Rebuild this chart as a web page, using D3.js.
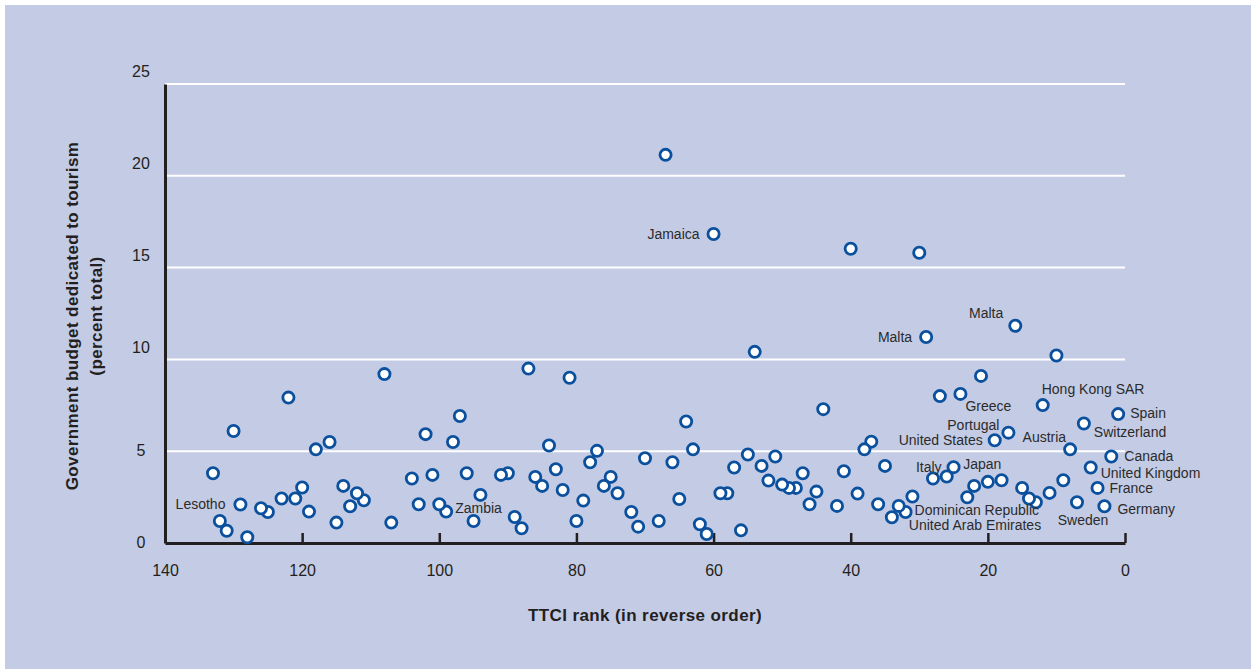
<html>
<head>
<script src="https://d3js.org/d3.v7.min.js"></script>
<style>
  body { margin: 0; background: #ffffff; }
  text { fill: #231f20; }
  .tick-lbl { font-family: "Liberation Sans", sans-serif; font-size: 16px; }
  .ann { font-family: "Liberation Sans", sans-serif; font-size: 14px; fill: #2b2b2b; }
  .title { font-family: "Liberation Sans", sans-serif; font-weight: bold; font-size: 17px; letter-spacing: 0.4px; }
</style>
</head>
<body>
<svg id="chart" width="1251" height="669"></svg>
<script>
// TTCI rank (x) and government budget share for tourism, percent (y)
const ranks = [1, 2, 3, 4, 5, 6, 7, 8, 9, 10, 11, 12, 13, 14, 15, 16, 17, 18, 19, 20,
  21, 22, 23, 24, 25, 26, 27, 28, 29, 30, 31, 32, 33, 34, 35, 36, 37, 38, 39, 40,
  41, 42, 44, 45, 46, 47, 48, 49, 50, 51, 52, 53, 54, 55, 56, 57, 58, 59, 60,
  61, 62, 63, 64, 65, 66, 67, 68, 70, 71, 72, 74, 75, 76, 77, 78, 79, 80,
  81, 82, 83, 84, 85, 86, 87, 88, 89, 90, 91, 94, 95, 96, 97, 98, 99, 100,
  101, 102, 103, 104, 107, 108, 111, 112, 113, 114, 115, 116, 118, 119, 120,
  121, 122, 123, 125, 126, 128, 129, 130, 131, 132, 133];
const budget = [7.02, 4.71, 2.0, 3.0, 4.11, 6.51, 2.22, 5.1, 3.42, 10.21, 2.73, 7.51, 2.22, 2.42, 3.0, 11.83, 6.01, 3.42, 5.6, 3.33,
  9.1, 3.11, 2.49, 8.12, 4.13, 3.62, 8.0, 3.51, 11.22, 15.81, 2.53, 1.69, 2.02, 1.4, 4.2, 2.11, 5.52, 5.1, 2.69, 16.03,
  3.91, 2.02, 7.29, 2.8, 2.11, 3.8, 3.0, 3.0, 3.18, 4.71, 3.4, 4.2, 10.41, 4.82, 0.69, 4.11, 2.71, 2.71, 16.83,
  0.49, 1.02, 5.1, 6.62, 2.4, 4.4, 21.14, 1.2, 4.62, 0.89, 1.69, 2.71, 3.6, 3.11, 5.02, 4.4, 2.31, 1.2,
  9.0, 2.89, 4.02, 5.31, 3.11, 3.6, 9.5, 0.8, 1.42, 3.8, 3.71, 2.62, 1.2, 3.8, 6.92, 5.5, 1.71, 2.11,
  3.71, 5.93, 2.11, 3.51, 1.11, 9.2, 2.33, 2.71, 2.0, 3.11, 1.11, 5.5, 5.1, 1.71, 3.02,
  2.42, 7.92, 2.42, 1.69, 1.89, 0.31, 2.1, 6.1, 0.67, 1.2, 3.8];

// labelled countries and the rank of the point they name
const labelNames = ["Lesotho", "Zambia", "Jamaica", "Malta", "Malta", "Hong Kong SAR", "Greece",
  "Portugal", "United States", "Austria", "Spain", "Switzerland", "Canada", "United Kingdom",
  "France", "Germany", "Sweden", "Italy", "Japan", "Dominican Republic", "United Arab Emirates"];
const labelRanks = [129, 99, 60, 29, 16, 12, 24, 17, 19, 8, 1, 6, 2, 5, 4, 3, 7, 25, 22, 32, 34];

const xTicks = [140, 120, 100, 80, 60, 40, 20, 0];
const yTicks = [0, 5, 10, 15, 20, 25];

const svg = d3.select("#chart");

// panel background
svg.append("rect")
  .attr("x", 5).attr("y", 5)
  .attr("width", 1246).attr("height", 664)
  .attr("fill", "#c4cbe5");

const x = d3.scaleLinear().domain([140, 0]).range([165, 1125]);
const y = d3.scaleLinear().domain([0, 25]).range([543, 84]);

// white gridlines
svg.append("g")
  .selectAll("line")
  .data(yTicks.filter(d => d > 0))
  .join("line")
  .attr("x1", x(140)).attr("x2", x(0))
  .attr("y1", d => y(d)).attr("y2", d => y(d))
  .attr("stroke", "#ffffff")
  .attr("stroke-width", 2);

// x axis, ticks pointing up
const xAxis = svg.append("g")
  .attr("transform", "translate(0," + y(0) + ")")
  .call(d3.axisBottom(x).tickValues(xTicks).tickSizeInner(-10).tickSizeOuter(0).tickPadding(22));
xAxis.select(".domain").attr("stroke", "#231f20").attr("stroke-width", 3);
xAxis.selectAll(".tick line").attr("stroke", "#231f20").attr("stroke-width", 2.5);
xAxis.selectAll(".tick text").attr("class", "tick-lbl").attr("font-family", null).attr("font-size", null).attr("fill", "#231f20");

// y axis, labels centred left of the line; upper ones sit above their gridline
const yAxis = svg.append("g")
  .attr("transform", "translate(" + x(140) + ",0)")
  .call(d3.axisLeft(y).tickValues(yTicks).tickSize(0).tickPadding(24));
yAxis.select(".domain").attr("stroke", "#231f20").attr("stroke-width", 3);
yAxis.selectAll(".tick text")
  .attr("class", "tick-lbl").attr("font-family", null).attr("font-size", null)
  .attr("fill", "#231f20")
  .attr("text-anchor", "middle")
  .attr("dy", d => d >= 10 ? "-0.45em" : "0.25em");

// points
svg.append("g")
  .selectAll("circle")
  .data(ranks)
  .join("circle")
  .attr("cx", d => x(d))
  .attr("cy", (d, i) => y(budget[i]))
  .attr("r", 5.6)
  .attr("fill", "#ffffff")
  .attr("stroke", "#0b509d")
  .attr("stroke-width", 2.8);

// annotation placement relative to each labelled point: [anchor, dx, dy]
const place = [["end", -15, 0], ["start", 9, -4], ["end", -14, 0], ["end", -14, 0], ["end", -12, -13],
  ["start", -1, -16], ["start", 5, 12], ["end", -9, -8], ["end", -12, 0], ["end", -4, -12],
  ["start", 12, -1], ["start", 10, 9], ["start", 13, 0], ["start", 10, 6], ["start", 12, 0],
  ["start", 13, 3], ["middle", 6, 18], ["end", -12, 0], ["start", -11, -22], ["start", 9, -2], ["start", 17, 8]];

svg.append("g")
  .selectAll("text")
  .data(labelNames)
  .join("text")
  .attr("class", "ann")
  .attr("x", (d, i) => x(labelRanks[i]) + place[i][1])
  .attr("y", (d, i) => y(budget[ranks.indexOf(labelRanks[i])]) + place[i][2])
  .attr("dy", "0.35em")
  .attr("text-anchor", (d, i) => place[i][0])
  .text(d => d);

// axis titles
svg.append("text")
  .attr("class", "title")
  .attr("x", (x(140) + x(0)) / 2)
  .attr("y", 621)
  .attr("text-anchor", "middle")
  .text("TTCI rank (in reverse order)");

svg.append("text")
  .attr("class", "title")
  .attr("transform", "translate(78,316) rotate(-90)")
  .attr("text-anchor", "middle")
  .text("Government budget dedicated to tourism");
svg.append("text")
  .attr("class", "title")
  .attr("transform", "translate(102,316) rotate(-90)")
  .attr("text-anchor", "middle")
  .text("(percent total)");
</script>
</body>
</html>
